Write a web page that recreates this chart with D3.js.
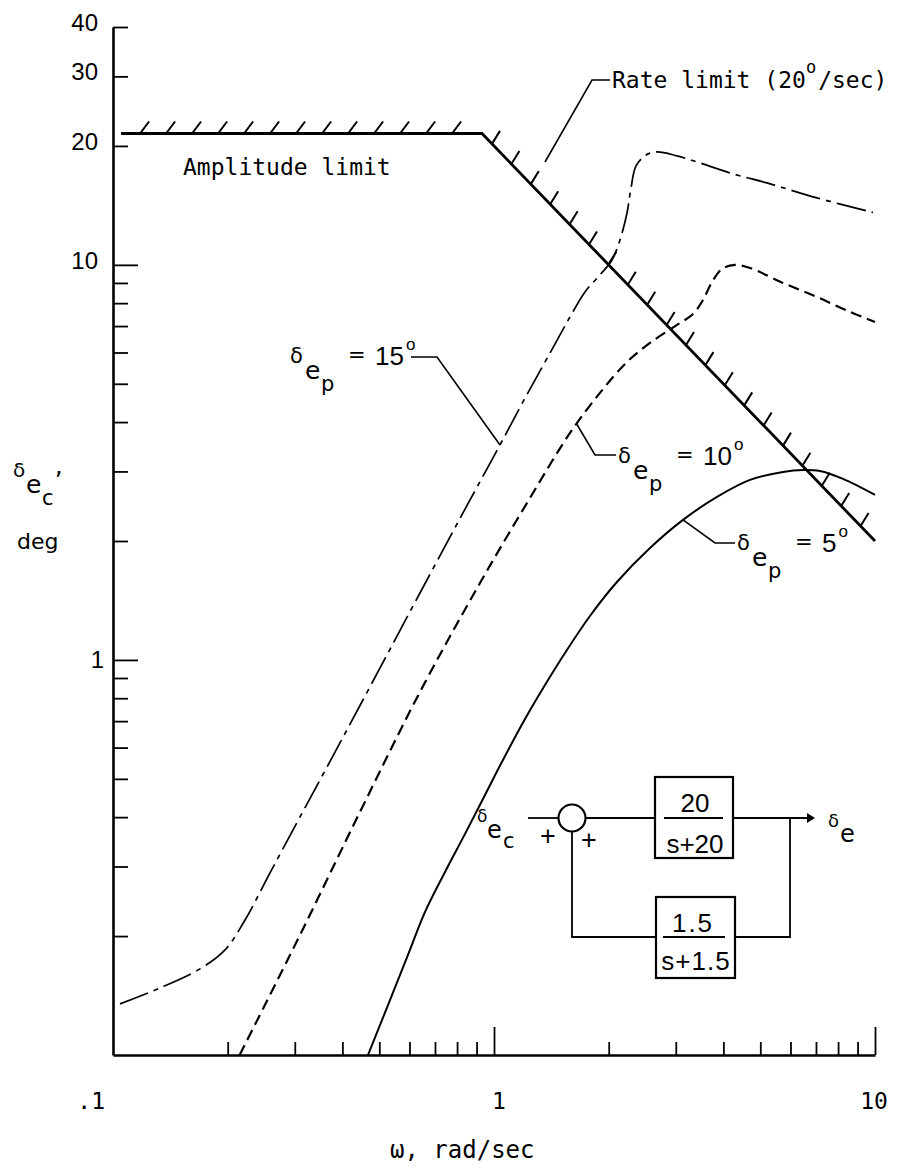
<!DOCTYPE html>
<html>
<head>
<meta charset="utf-8">
<script src="https://cdn.jsdelivr.net/npm/d3@7"></script>
<style>
  body { margin: 0; background: #fff; }
  svg { display: block; }
</style>
</head>
<body>
<div id="chart"></div>
<script>
// values: omega in rad/sec, amplitude in deg
const omega15 = [0.1043, 0.1328, 0.1692, 0.1968, 0.2221, 0.2583, 0.3096, 0.3942, 0.5022, 0.6393, 0.8291, 1.037, 1.191, 1.403, 1.583, 1.733, 1.897, 2.040, 2.141, 2.234, 2.289, 2.359, 2.506, 2.678, 3.022, 3.473, 4.240, 5.205, 7.042, 9.881];
const amp15   = [0.1347, 0.1478, 0.1652, 0.1845, 0.2197, 0.2890, 0.4006, 0.6165, 0.9545, 1.477, 2.356, 3.501, 4.498, 5.985, 7.383, 8.542, 9.430, 10.29, 11.56, 13.53, 15.65, 17.80, 18.97, 19.31, 18.87, 18.11, 16.99, 16.12, 14.77, 13.57];

const omega10 = [0.215, 0.3096, 0.4449, 0.6393, 0.9189, 1.221, 1.583, 1.897, 2.234, 2.567, 3.022, 3.329, 3.537, 3.735, 3.967, 4.291, 4.698, 5.734, 7.042, 8.598, 10];
const amp10   = [0.1, 0.2013, 0.4124, 0.8299, 1.566, 2.497, 3.754, 4.741, 5.679, 6.345, 7.047, 7.513, 8.150, 9.053, 9.765, 9.995, 9.822, 9.000, 8.293, 7.601, 7.170];

const omega5 = [0.467, 0.527, 0.5946, 0.6592, 0.7437, 0.8394, 0.9471, 1.069, 1.206, 1.361, 1.536, 1.786, 2.102, 2.567, 3.134, 3.849, 4.698, 5.734, 6.471, 7.172, 8.241, 10];
const amp5   = [0.1, 0.1338, 0.1792, 0.2302, 0.2906, 0.3628, 0.4553, 0.5715, 0.7090, 0.8643, 1.0416, 1.292, 1.575, 1.920, 2.262, 2.586, 2.855, 2.991, 3.026, 3.008, 2.872, 2.616];

// amplitude limit (flat) then rate limit 20 deg/sec
const omegaLimit = [0.105, 0.93, 10];
const ampLimit   = [21.5, 21.5, 2.0];

const xMinorTicks = [0.2, 0.3, 0.4, 0.5, 0.6, 0.7, 0.8, 0.9, 2, 3, 4, 5, 6, 7, 8, 9];
const xMajorTicks = [1, 10];
const xTickLabels = [".1", "1", "10"];
const xLabelValues = [0.1, 1, 10];

const yMinorTicks = [0.2, 0.3, 0.4, 0.5, 0.6, 0.7, 0.8, 0.9, 2, 3, 4, 5, 6, 7, 8, 9, 20, 30, 40];
const yMajorTicks = [1, 10];
const yTickLabels = ["1", "10", "20", "30", "40"];
const yLabelValues = [1, 10, 20, 30, 40];

const curveLabels = ["15", "10", "5"];

const W = 897, H = 1168;
const mono = "'DejaVu Sans Mono', monospace";
const sans = "'Liberation Sans', Arial, sans-serif";
const greek = "'DejaVu Sans', sans-serif";

const svg = d3.select('#chart').append('svg')
    .attr('width', W)
    .attr('height', H)
    .style('background', '#fff');

const x = d3.scaleLog().domain([0.1, 10]).range([113, 875]);
const y = d3.scaleLog().domain([0.1, 40]).range([1055, 27]);

// axes
const xAxisG = svg.append('g').attr('transform', `translate(0,${y(0.1)})`);
xAxisG.call(d3.axisBottom(x).tickValues(xMinorTicks).tickSize(-13).tickSizeOuter(0).tickFormat(''));
xAxisG.append('g').call(d3.axisBottom(x).tickValues(xMajorTicks).tickSize(-28).tickSizeOuter(0).tickFormat(''))
    .select('.domain').remove();

const yAxisG = svg.append('g').attr('transform', `translate(${x(0.1)},0)`);
yAxisG.call(d3.axisRight(y).tickValues(yMinorTicks).tickSize(15).tickSizeOuter(0).tickFormat(''));
yAxisG.append('g').call(d3.axisRight(y).tickValues(yMajorTicks).tickSize(25).tickSizeOuter(0).tickFormat(''))
    .select('.domain').remove();

svg.selectAll('.domain').attr('stroke', '#000').attr('stroke-width', 2.6);
svg.selectAll('.tick line').attr('stroke', '#000').attr('stroke-width', 1.8);

// tick labels
svg.append('g').selectAll('text')
    .data(xTickLabels)
    .enter().append('text')
    .attr('x', (d, i) => i === 0 ? x(xLabelValues[i]) - 8 : x(xLabelValues[i]) + (i === 1 ? 5 : -1))
    .attr('y', 1109)
    .attr('text-anchor', (d, i) => i === 0 ? 'end' : 'middle')
    .attr('font-family', mono)
    .attr('font-size', 23)
    .text(d => d);

svg.append('g').selectAll('text')
    .data(yTickLabels)
    .enter().append('text')
    .attr('x', (d, i) => i === 0 ? 104 : 98)
    .attr('y', (d, i) => y(yLabelValues[i]) + (i === 0 ? 8 : 4))
    .attr('text-anchor', 'end')
    .attr('font-family', sans)
    .attr('font-size', 24)
    .text(d => d);

// axis titles
svg.append('text')
    .attr('x', 390).attr('y', 1158)
    .attr('font-family', mono).attr('font-size', 24)
    .text('ω, rad/sec');

const yTitle = svg.append('text').attr('font-family', greek);
yTitle.append('tspan').attr('x', 13).attr('y', 477).attr('font-size', 20).text('δ');
yTitle.append('tspan').attr('x', 26).attr('y', 493).attr('font-size', 25).text('e');
yTitle.append('tspan').attr('x', 42).attr('y', 505).attr('font-size', 21).text('c');
yTitle.append('tspan').attr('x', 55).attr('y', 474).attr('font-size', 24).text(',');
svg.append('text').attr('x', 17).attr('y', 549).attr('font-family', greek).attr('font-size', 22).text('deg');

// response curves
const line = d3.line()
    .x(d => x(d[0]))
    .y(d => y(d[1]))
    .curve(d3.curveCatmullRom.alpha(0.5));

const series = [
    { om: omega15, amp: amp15, dash: '30,6,5,6', width: 1.7 },
    { om: omega10, amp: amp10, dash: '11,6', width: 2.2 },
    { om: omega5, amp: amp5, dash: null, width: 2.0 }
];

series.forEach(s => {
    svg.append('path')
        .datum(s.om.map((o, i) => [o, s.amp[i]]))
        .attr('fill', 'none')
        .attr('stroke', '#000')
        .attr('stroke-width', s.width)
        .attr('stroke-dasharray', s.dash)
        .attr('d', line);
});

// limit line with hatching
const limitPts = omegaLimit.map((o, i) => [o, ampLimit[i]]);
svg.append('path')
    .datum(limitPts)
    .attr('fill', 'none')
    .attr('stroke', '#000')
    .attr('stroke-width', 2.8)
    .attr('d', d3.line().x(d => x(d[0])).y(d => y(d[1])));

const hatch = svg.append('g').attr('stroke', '#000').attr('stroke-width', 2);
const p0 = [x(limitPts[0][0]), y(limitPts[0][1])];
const p1 = [x(limitPts[1][0]), y(limitPts[1][1])];
const p2 = [x(limitPts[2][0]), y(limitPts[2][1])];
// amplitude limit: slanted "/" marks
for (let hx = p0[0] + 19; hx < p1[0] - 4; hx += 26) {
    hatch.append('line')
        .attr('x1', hx).attr('y1', p1[1])
        .attr('x2', hx + 9).attr('y2', p1[1] - 12);
}
// rate limit: short ticks on the upper side
const slope = (p2[1] - p1[1]) / (p2[0] - p1[0]);
for (let hx = p1[0] + 10; hx < p2[0] - 5; hx += 19.4) {
    const hy = p1[1] + slope * (hx - p1[0]);
    hatch.append('line')
        .attr('x1', hx).attr('y1', hy)
        .attr('x2', hx + 8).attr('y2', hy - 13);
}

// annotations
const leader = d3.line();
const annot = svg.append('g').attr('fill', 'none').attr('stroke', '#000').attr('stroke-width', 1.6);

svg.append('text')
    .attr('x', 183).attr('y', 175)
    .attr('font-family', mono).attr('font-size', 23)
    .text('Amplitude limit');

const rate = svg.append('text')
    .attr('x', 612).attr('y', 88)
    .attr('font-family', mono).attr('font-size', 23);
rate.append('tspan').text('Rate limit (20');
rate.append('tspan').attr('font-size', 17).attr('dy', -15).text('o');
rate.append('tspan').attr('dy', 15).attr('dx', 2).text('/sec)');
annot.append('path').attr('d', leader([[610, 80], [592, 80], [545, 162]]));

function deltaLabel(x0, y0, value) {
    const t = svg.append('text').attr('font-family', greek);
    t.append('tspan').attr('x', x0).attr('y', y0).attr('font-size', 21).text('δ');
    t.append('tspan').attr('x', x0 + 15).attr('y', y0 + 16).attr('font-size', 25).text('e');
    t.append('tspan').attr('x', x0 + 31).attr('y', y0 + 28).attr('font-size', 21).text('p');
    t.append('tspan').attr('x', x0 + 58).attr('y', y0 - 1).attr('font-size', 21).text('=');
    t.append('tspan').attr('x', x0 + 85).attr('y', y0 + 2).attr('font-family', sans).attr('font-size', 26).text(value);
    t.append('tspan').attr('dx', 2).attr('y', y0 - 13).attr('font-family', sans).attr('font-size', 17).text('o');
}

deltaLabel(290, 363, curveLabels[0]);
deltaLabel(618, 463, curveLabels[1]);
deltaLabel(737, 550, curveLabels[2]);

annot.append('path').attr('d', leader([[411, 357], [437, 357], [x(1.037), y(3.5)]]));
annot.append('path').attr('d', leader([[x(1.65), y(3.95)], [595, 455], [616, 455]]));
annot.append('path').attr('d', leader([[x(3.134), y(2.262)], [715, 543], [735, 543]]));

// block diagram
const bd = svg.append('g').attr('transform', 'translate(572,818)');
const bl = bd.append('g').attr('fill', 'none').attr('stroke', '#000').attr('stroke-width', 1.8);
bl.append('path').attr('d', leader([[-44, 0], [-14, 0]]));
bl.append('circle').attr('cx', 0).attr('cy', 0).attr('r', 13.5).attr('stroke-width', 2.2);
bl.append('path').attr('d', leader([[14, 0], [83, 0]]));
bl.append('rect').attr('x', 83).attr('y', -41).attr('width', 78).attr('height', 81).attr('stroke-width', 2.2);
bl.append('path').attr('d', leader([[92, 0], [151, 0]]));
bl.append('path').attr('d', leader([[161, 0], [237, 0]]));
bl.append('path').attr('d', leader([[218, 0], [218, 119], [163, 119]]));
bl.append('rect').attr('x', 84).attr('y', 79).attr('width', 79).attr('height', 81).attr('stroke-width', 2.2);
bl.append('path').attr('d', leader([[91, 119], [153, 119]]));
bl.append('path').attr('d', leader([[84, 119], [0, 119], [0, 13.5]]));
bd.append('path').attr('d', 'M235,-5L243,0L235,5Z').attr('fill', '#000');

const bt = bd.append('g').attr('font-family', sans).attr('text-anchor', 'middle');
bt.append('text').attr('x', -24).attr('y', 27).attr('font-size', 27).text('+');
bt.append('text').attr('x', 17).attr('y', 31).attr('font-size', 27).text('+');
bt.append('text').attr('x', 123).attr('y', -6).attr('font-size', 26).text('20');
bt.append('text').attr('x', 123).attr('y', 35).attr('font-size', 26).text('s+20');
bt.append('text').attr('x', 121).attr('y', 114).attr('font-size', 26).attr('letter-spacing', 2).text('1.5');
bt.append('text').attr('x', 124).attr('y', 152).attr('font-size', 26).attr('letter-spacing', 1).text('s+1.5');

const inLabel = bd.append('text').attr('font-family', greek);
inLabel.append('tspan').attr('x', -95).attr('y', 4).attr('font-size', 17).text('δ');
inLabel.append('tspan').attr('x', -85).attr('y', 20).attr('font-size', 24).text('e');
inLabel.append('tspan').attr('x', -69).attr('y', 30).attr('font-size', 21).text('c');
const outLabel = bd.append('text').attr('font-family', greek);
outLabel.append('tspan').attr('x', 256).attr('y', 9).attr('font-size', 18).text('δ');
outLabel.append('tspan').attr('x', 268).attr('y', 24).attr('font-size', 24).text('e');
</script>
</body>
</html>
